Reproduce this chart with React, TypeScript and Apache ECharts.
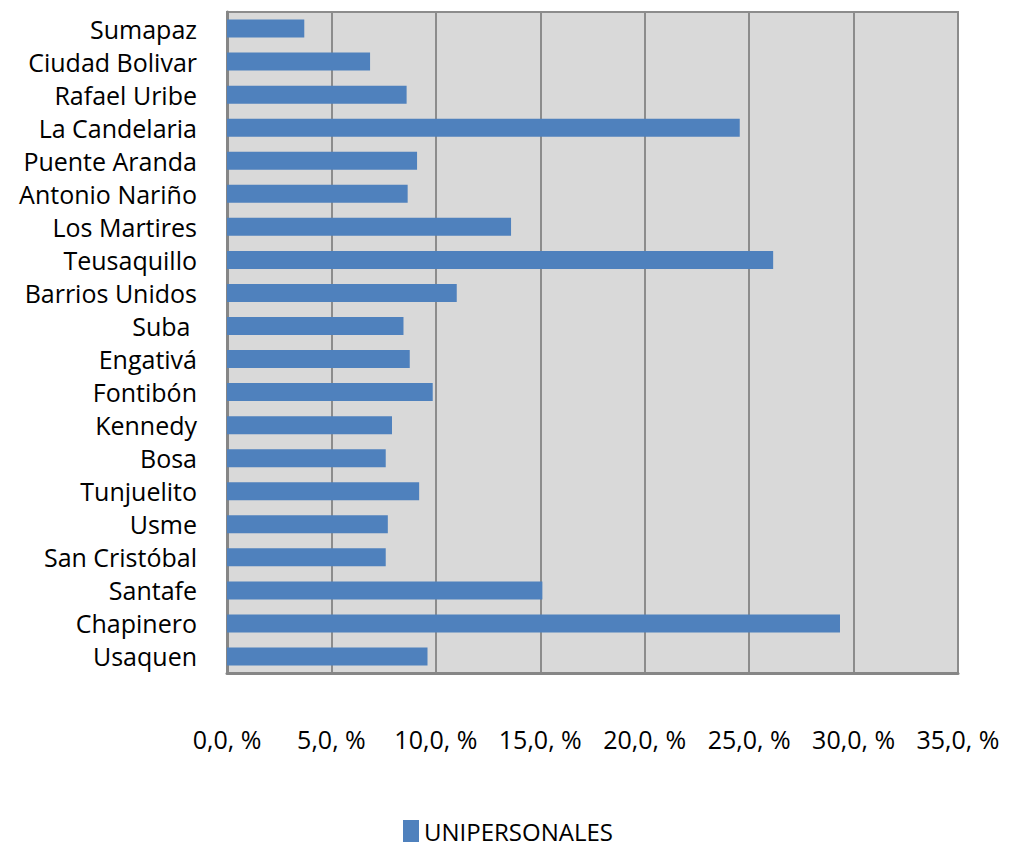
import React, { useEffect, useRef } from "react";
import * as echarts from "echarts";

const categories = [
  "Usaquen",
  "Chapinero",
  "Santafe",
  "San Cristóbal",
  "Usme",
  "Tunjuelito",
  "Bosa",
  "Kennedy",
  "Fontibón",
  "Engativá",
  "Suba ",
  "Barrios Unidos",
  "Teusaquillo",
  "Los Martires",
  "Antonio Nariño",
  "Puente Aranda",
  "La Candelaria",
  "Rafael Uribe",
  "Ciudad Bolivar",
  "Sumapaz",
];

const unipersonales = [
  9.6, 29.35, 15.1, 7.6, 7.7, 9.2, 7.6, 7.9, 9.85, 8.75, 8.45, 11.0, 26.15, 13.6,
  8.65, 9.1, 24.55, 8.6, 6.85, 3.7,
];

const seriesName = "UNIPERSONALES";

const formatTick = (v: number) => v.toFixed(1).replace(".", ",") + ", %";

export default function App() {
  const ref = useRef<HTMLDivElement>(null);
  useEffect(() => {
    if (!ref.current) return;
    const chart = echarts.init(ref.current, null, { renderer: "svg" });
    const font = "'Open Sans', sans-serif";
    chart.setOption({
      animation: false,
      textStyle: { fontFamily: font },
      grid: {
        left: 227,
        top: 12,
        right: 52,
        bottom: 175,
        show: true,
        backgroundColor: "#D9D9D9",
        borderColor: "#8C8C8C",
        borderWidth: 2,
      },
      legend: {
        data: [seriesName],
        left: 398,
        top: 814,
        itemWidth: 16,
        itemHeight: 22,
        itemGap: 10,
        textStyle: { fontSize: 24, color: "#000", fontFamily: font },
        icon: "rect",
      },
      xAxis: {
        type: "value",
        min: 0,
        max: 35,
        interval: 5,
        axisLine: { show: true, lineStyle: { color: "#868686", width: 3 } },
        axisTick: { show: false },
        splitLine: { show: true, lineStyle: { color: "#8C8C8C", width: 2 } },
        axisLabel: {
          formatter: formatTick,
          fontSize: 25,
          color: "#000",
          margin: 53,
          fontFamily: font,
        },
      },
      yAxis: {
        type: "category",
        data: categories,
        axisLine: { show: true, lineStyle: { color: "#868686", width: 3 } },
        axisTick: { show: false },
        axisLabel: {
          fontSize: 25,
          color: "#000",
          margin: 30,
          interval: 0,
          padding: [5, 0, 0, 0],
          fontFamily: font,
        },
      },
      series: [
        {
          name: seriesName,
          type: "bar",
          data: unipersonales,
          barWidth: 18,
          itemStyle: { color: "#4F81BD" },
        },
      ],
    });
    return () => chart.dispose();
  }, []);
  return (
    <div
      ref={ref}
      style={{ position: "absolute", left: 0, top: 0, width: 1010, height: 848 }}
    />
  );
}
